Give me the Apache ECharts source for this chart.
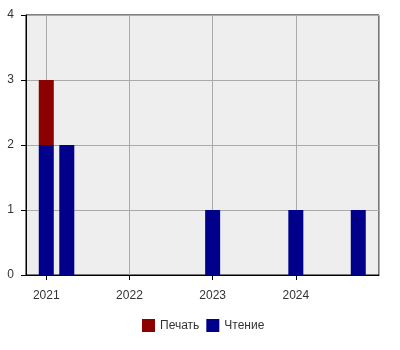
<!DOCTYPE html>
<html>
<head>
<meta charset="utf-8">
<script src="https://cdn.jsdelivr.net/npm/echarts@6/dist/echarts.min.js"></script>
<style>html,body{margin:0;padding:0;background:#fff}#c{width:400px;height:350px}</style>
</head>
<body>
<div id="c"></div>
<script>
var dates = ['2021-01-01', '2021-04-01', '2023-01-01', '2024-01-01', '2024-10-01'];
var readingValues = [2, 2, 1, 1, 1];
var printValues = [1, 0, 0, 0, 0];
var seriesNames = ['Печать', 'Чтение'];
var yTicks = [0, 1, 2, 3, 4];
var xRange = ['2020-10-04', '2024-12-31'];

var FONT = 'Liberation Sans';
var GRID = { left: 26, right: 21, top: 15, bottom: 75 };
var BAR_W = 15;
var W = 400;
function pairs(vals) { return dates.map(function (d, i) { return [d, vals[i]]; }); }

// ECharts widens a time axis holding bars by the bar width; pre-shrink so the visible range equals xRange.
var axisLen = W - GRID.left - GRID.right;
var a = Date.parse(xRange[0]), b = Date.parse(xRange[1]);
var want = b - a;
var inner = want * (axisLen - BAR_W) / axisLen;
var pad = (want - inner) / 2;
var xMin = a + pad, xMax = b - pad;

var chart = echarts.init(document.getElementById('c'), null, { renderer: 'canvas' });
chart.setOption({
  animation: false,
  textStyle: { fontFamily: FONT },
  grid: {
    left: GRID.left, right: GRID.right, top: GRID.top, bottom: GRID.bottom,
    show: true, backgroundColor: '#eeeeee', borderColor: '#000', borderWidth: 1
  },
  legend: {
    data: seriesNames,
    top: 314,
    left: 137,
    itemWidth: 13, itemHeight: 13, itemGap: 7,
    icon: 'rect',
    textStyle: { fontFamily: FONT, fontSize: 12, color: '#333' }
  },
  xAxis: {
    type: 'time',
    min: xMin,
    max: xMax,
    minInterval: 365 * 24 * 3600 * 1000,
    maxInterval: 366 * 24 * 3600 * 1000,
    axisLine: { show: true, lineStyle: { color: '#000', width: 1 } },
    axisTick: { show: true, length: 5, lineStyle: { color: '#000' } },
    axisLabel: { formatter: '{yyyy}', fontFamily: FONT, fontSize: 12, color: '#333', margin: 15, showMinLabel: false, showMaxLabel: false },
    splitLine: { show: true, lineStyle: { color: '#aaaaaa', width: 1 } }
  },
  yAxis: {
    type: 'value',
    min: yTicks[0],
    max: yTicks[yTicks.length - 1],
    interval: 1,
    axisLine: { show: true, lineStyle: { color: '#000', width: 1 } },
    axisTick: { show: true, length: 5, lineStyle: { color: '#000' } },
    axisLabel: { fontFamily: FONT, fontSize: 12, color: '#333', margin: 12 },
    splitLine: { show: true, lineStyle: { color: '#aaaaaa', width: 1 } }
  },
  series: [
    {
      name: 'Чтение', type: 'bar', stack: 'total', barWidth: BAR_W,
      itemStyle: { color: '#00008b' },
      data: pairs(readingValues)
    },
    {
      name: 'Печать', type: 'bar', stack: 'total', barWidth: BAR_W,
      itemStyle: { color: '#8b0000' },
      data: pairs(printValues)
    }
  ]
});
</script>
</body>
</html>
